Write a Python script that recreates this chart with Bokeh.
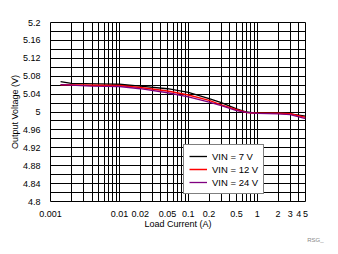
from bokeh.plotting import figure
from bokeh.models import (FixedTicker, CustomJSTickFormatter, Legend, LegendItem, Title, Range1d)
from bokeh.embed import file_html
from bokeh.resources import INLINE

# Data (load current in A, output voltage in V)
i_7v = [0.0014, 0.002, 0.005, 0.01, 0.02, 0.05, 0.1, 0.2, 0.3, 0.5, 0.7, 1, 2, 3, 5]
v_7v = [5.068, 5.064, 5.063, 5.062, 5.058, 5.052, 5.044, 5.030, 5.021, 5.007, 5.000, 4.997, 4.997, 4.996, 4.991]
i_12v = [0.0014, 0.01, 0.02, 0.05, 0.1, 0.2, 0.3, 0.5, 0.7, 1, 2, 3, 5]
v_12v = [5.061, 5.059, 5.055, 5.047, 5.038, 5.026, 5.016, 5.005, 4.999, 4.997, 4.997, 4.996, 4.988]
i_24v = [0.0014, 0.0039, 0.01, 0.02, 0.05, 0.1, 0.2, 0.3, 0.5, 0.7, 1, 2, 3, 5]
v_24v = [5.061, 5.058, 5.057, 5.052, 5.043, 5.034, 5.022, 5.014, 5.003, 4.999, 4.997, 4.996, 4.994, 4.985]
series_names = ["VIN = 7 V", "VIN = 12 V", "VIN = 24 V"]

x_ticks = [0.001, 0.01, 0.02, 0.05, 0.1, 0.2, 0.5, 1, 2, 3, 4, 5]
x_labels = ["0.001", "0.01", "0.02", "0.05", "0.1", "0.2", "0.5", "1", "2", "3", "4", "5"]
x_minor = [m * d for d in [0.001, 0.01, 0.1, 1] for m in range(1, 10) if m * d <= 5.0001]
y_ticks = [4.8, 4.84, 4.88, 4.92, 4.96, 5.0, 5.04, 5.08, 5.12, 5.16, 5.2]
y_labels = ["4.8", "4.84", "4.88", "4.92", "4.96", "5", "5.04", "5.08", "5.12", "5.16", "5.2"]
y_minor = [4.82, 4.86, 4.9, 4.94, 4.98, 5.02, 5.06, 5.1, 5.14, 5.18]

FONT = "Liberation Sans"

p = figure(width=338, height=254, x_axis_type="log", output_backend="svg",
           toolbar_location=None, x_range=Range1d(0.001, 5), y_range=Range1d(4.8, 5.2),
           min_border_left=50, min_border_right=33, min_border_top=22, min_border_bottom=53)
p.outline_line_color = "black"
p.outline_line_width = 1

fmt_code = """
const i = tv.findIndex(t => Math.abs(t - tick) <= 1e-9 * Math.max(1, Math.abs(tick)));
return i >= 0 ? tl[i] : '';
"""
p.xaxis.ticker = FixedTicker(ticks=x_ticks, minor_ticks=x_minor)
p.xaxis.formatter = CustomJSTickFormatter(args=dict(tv=x_ticks, tl=x_labels), code=fmt_code)
p.yaxis.ticker = FixedTicker(ticks=y_ticks, minor_ticks=y_minor)
p.yaxis.formatter = CustomJSTickFormatter(args=dict(tv=y_ticks, tl=y_labels), code=fmt_code)

for ax in (p.xaxis, p.yaxis):
    ax.axis_line_color = None
    ax.major_tick_line_color = None
    ax.minor_tick_line_color = None
    ax.major_label_text_font = FONT
    ax.major_label_text_font_size = "9px"
    ax.major_label_text_color = "black"
    ax.axis_label_text_font = FONT
    ax.axis_label_text_font_size = "9px"
    ax.axis_label_text_font_style = "normal"
    ax.axis_label_text_color = "black"

p.xaxis.axis_label = "Load Current (A)"
p.yaxis.axis_label = "Output Voltage (V)"
p.xaxis.major_label_standoff = 3
p.xaxis.axis_label_standoff = -1
p.yaxis.major_label_standoff = 4
p.yaxis.axis_label_standoff = 0

# x grid: vertical lines at every 1..9 per decade
p.xgrid.ticker = FixedTicker(ticks=x_minor)
p.xgrid.grid_line_color = "black"
p.xgrid.grid_line_width = 1
p.xgrid.grid_line_alpha = 1
p.ygrid.ticker = FixedTicker(ticks=y_ticks, minor_ticks=y_minor)
p.ygrid.grid_line_color = "black"
p.ygrid.minor_grid_line_color = "black"
p.ygrid.grid_line_width = 1
p.ygrid.minor_grid_line_width = 1

r1 = p.line(i_7v, v_7v, line_color="black", line_width=1.3)
r2 = p.line(i_12v, v_12v, line_color="#FF0000", line_width=1.5)
r3 = p.line(i_24v, v_24v, line_color="#800080", line_width=1.3)

legend = Legend(items=[LegendItem(label=series_names[0], renderers=[r1]),
                       LegendItem(label=series_names[1], renderers=[r2]),
                       LegendItem(label=series_names[2], renderers=[r3])],
                location=(133, 7), orientation="vertical")
legend.border_line_color = "black"
legend.border_line_width = 1
legend.background_fill_color = "white"
legend.background_fill_alpha = 1
legend.label_text_font = FONT
legend.label_text_font_size = "9.5px"
legend.label_text_color = "black"
legend.glyph_width = 18
legend.glyph_height = 12
legend.label_height = 12
legend.label_standoff = 5
legend.spacing = 1
legend.padding = 5
legend.margin = 0
p.add_layout(legend, "center")

note = Title(text="RSG_", align="right", offset=-18, text_font=FONT, text_font_size="6px",
             text_color="#888888", text_font_style="normal", standoff=7)
p.add_layout(note, "below")

open("out.html", "w").write(file_html(p, INLINE))
